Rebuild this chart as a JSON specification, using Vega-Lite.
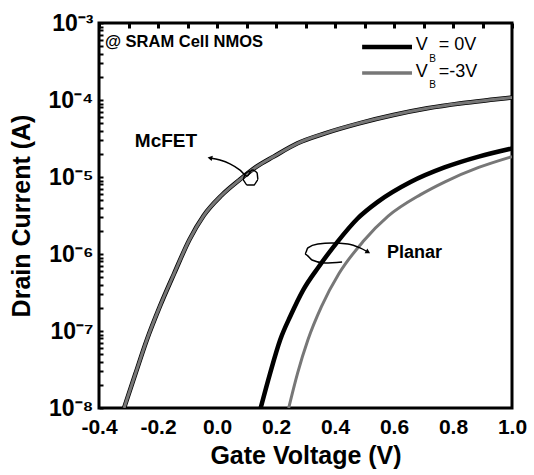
{
  "$schema": "https://vega.github.io/schema/vega-lite/v6.json",
  "width": 413,
  "height": 385,
  "autosize": {"type": "none"},
  "padding": {"left": 99, "top": 23, "right": 22, "bottom": 67},
  "background": "white",
  "config": {"view": {"stroke": "black", "strokeWidth": 3}, "font": "Liberation Sans"},
  "datasets": {
    "curves": [
      {"series": "McFET 0V", "bias": "0V", "vg": -0.315, "id": 1.0e-8},
      {"series": "McFET 0V", "bias": "0V", "vg": -0.276, "id": 2.82e-8},
      {"series": "McFET 0V", "bias": "0V", "vg": -0.238, "id": 7.64e-8},
      {"series": "McFET 0V", "bias": "0V", "vg": -0.194, "id": 2.07e-7},
      {"series": "McFET 0V", "bias": "0V", "vg": -0.145, "id": 5.61e-7},
      {"series": "McFET 0V", "bias": "0V", "vg": -0.094, "id": 1.52e-6},
      {"series": "McFET 0V", "bias": "0V", "vg": -0.045, "id": 3.16e-6},
      {"series": "McFET 0V", "bias": "0V", "vg": 0.015, "id": 5.75e-6},
      {"series": "McFET 0V", "bias": "0V", "vg": 0.076, "id": 9.14e-6},
      {"series": "McFET 0V", "bias": "0V", "vg": 0.134, "id": 1.36e-5},
      {"series": "McFET 0V", "bias": "0V", "vg": 0.192, "id": 1.84e-5},
      {"series": "McFET 0V", "bias": "0V", "vg": 0.273, "id": 2.74e-5},
      {"series": "McFET 0V", "bias": "0V", "vg": 0.366, "id": 3.69e-5},
      {"series": "McFET 0V", "bias": "0V", "vg": 0.482, "id": 4.98e-5},
      {"series": "McFET 0V", "bias": "0V", "vg": 0.598, "id": 6.38e-5},
      {"series": "McFET 0V", "bias": "0V", "vg": 0.713, "id": 7.80e-5},
      {"series": "McFET 0V", "bias": "0V", "vg": 0.829, "id": 9.06e-5},
      {"series": "McFET 0V", "bias": "0V", "vg": 0.945, "id": 1.02e-4},
      {"series": "McFET 0V", "bias": "0V", "vg": 1.0, "id": 1.08e-4},
      {"series": "McFET -3V", "bias": "-3V", "vg": -0.315, "id": 1.0e-8},
      {"series": "McFET -3V", "bias": "-3V", "vg": -0.276, "id": 2.82e-8},
      {"series": "McFET -3V", "bias": "-3V", "vg": -0.238, "id": 7.64e-8},
      {"series": "McFET -3V", "bias": "-3V", "vg": -0.194, "id": 2.07e-7},
      {"series": "McFET -3V", "bias": "-3V", "vg": -0.145, "id": 5.61e-7},
      {"series": "McFET -3V", "bias": "-3V", "vg": -0.094, "id": 1.52e-6},
      {"series": "McFET -3V", "bias": "-3V", "vg": -0.045, "id": 3.16e-6},
      {"series": "McFET -3V", "bias": "-3V", "vg": 0.015, "id": 5.75e-6},
      {"series": "McFET -3V", "bias": "-3V", "vg": 0.076, "id": 9.14e-6},
      {"series": "McFET -3V", "bias": "-3V", "vg": 0.134, "id": 1.36e-5},
      {"series": "McFET -3V", "bias": "-3V", "vg": 0.192, "id": 1.84e-5},
      {"series": "McFET -3V", "bias": "-3V", "vg": 0.273, "id": 2.74e-5},
      {"series": "McFET -3V", "bias": "-3V", "vg": 0.366, "id": 3.69e-5},
      {"series": "McFET -3V", "bias": "-3V", "vg": 0.482, "id": 4.98e-5},
      {"series": "McFET -3V", "bias": "-3V", "vg": 0.598, "id": 6.38e-5},
      {"series": "McFET -3V", "bias": "-3V", "vg": 0.713, "id": 7.80e-5},
      {"series": "McFET -3V", "bias": "-3V", "vg": 0.829, "id": 9.06e-5},
      {"series": "McFET -3V", "bias": "-3V", "vg": 0.945, "id": 1.02e-4},
      {"series": "McFET -3V", "bias": "-3V", "vg": 1.0, "id": 1.08e-4},
      {"series": "Planar 0V", "bias": "0V", "vg": 0.148, "id": 1.0e-8},
      {"series": "Planar 0V", "bias": "0V", "vg": 0.180, "id": 2.82e-8},
      {"series": "Planar 0V", "bias": "0V", "vg": 0.214, "id": 7.64e-8},
      {"series": "Planar 0V", "bias": "0V", "vg": 0.250, "id": 1.60e-7},
      {"series": "Planar 0V", "bias": "0V", "vg": 0.292, "id": 3.40e-7},
      {"series": "Planar 0V", "bias": "0V", "vg": 0.345, "id": 6.84e-7},
      {"series": "Planar 0V", "bias": "0V", "vg": 0.409, "id": 1.45e-6},
      {"series": "Planar 0V", "bias": "0V", "vg": 0.475, "id": 2.85e-6},
      {"series": "Planar 0V", "bias": "0V", "vg": 0.545, "id": 4.75e-6},
      {"series": "Planar 0V", "bias": "0V", "vg": 0.656, "id": 8.60e-6},
      {"series": "Planar 0V", "bias": "0V", "vg": 0.771, "id": 1.33e-5},
      {"series": "Planar 0V", "bias": "0V", "vg": 0.887, "id": 1.84e-5},
      {"series": "Planar 0V", "bias": "0V", "vg": 1.0, "id": 2.35e-5},
      {"series": "Planar -3V", "bias": "-3V", "vg": 0.243, "id": 1.0e-8},
      {"series": "Planar -3V", "bias": "-3V", "vg": 0.273, "id": 2.82e-8},
      {"series": "Planar -3V", "bias": "-3V", "vg": 0.308, "id": 7.64e-8},
      {"series": "Planar -3V", "bias": "-3V", "vg": 0.354, "id": 2.07e-7},
      {"series": "Planar -3V", "bias": "-3V", "vg": 0.414, "id": 5.61e-7},
      {"series": "Planar -3V", "bias": "-3V", "vg": 0.495, "id": 1.45e-6},
      {"series": "Planar -3V", "bias": "-3V", "vg": 0.580, "id": 3.10e-6},
      {"series": "Planar -3V", "bias": "-3V", "vg": 0.690, "id": 5.90e-6},
      {"series": "Planar -3V", "bias": "-3V", "vg": 0.771, "id": 8.60e-6},
      {"series": "Planar -3V", "bias": "-3V", "vg": 0.887, "id": 1.33e-5},
      {"series": "Planar -3V", "bias": "-3V", "vg": 1.0, "id": 1.84e-5}
    ],
    "arrows": [
      {"path": "mcfet", "k": 1, "vg": -0.024, "id": 1.77e-5},
      {"path": "mcfet", "k": 2, "vg": 0.010, "id": 1.66e-5},
      {"path": "mcfet", "k": 3, "vg": 0.044, "id": 1.48e-5},
      {"path": "mcfet", "k": 4, "vg": 0.078, "id": 1.23e-5},
      {"path": "mcfet", "k": 5, "vg": 0.102, "id": 1.03e-5},
      {"path": "mcfet", "k": 6, "vg": 0.119, "id": 1.23e-5},
      {"path": "mcfet", "k": 7, "vg": 0.136, "id": 1.13e-5},
      {"path": "mcfet", "k": 8, "vg": 0.139, "id": 9.14e-6},
      {"path": "mcfet", "k": 9, "vg": 0.125, "id": 7.87e-6},
      {"path": "mcfet", "k": 10, "vg": 0.102, "id": 7.87e-6},
      {"path": "mcfet", "k": 11, "vg": 0.088, "id": 9.14e-6},
      {"path": "mcfet", "k": 12, "vg": 0.095, "id": 1.09e-5},
      {"path": "mcfet", "k": 13, "vg": 0.112, "id": 1.20e-5},
      {"path": "planar", "k": 1, "vg": 0.424, "id": 7.87e-7},
      {"path": "planar", "k": 2, "vg": 0.366, "id": 7.64e-7},
      {"path": "planar", "k": 3, "vg": 0.322, "id": 8.36e-7},
      {"path": "planar", "k": 4, "vg": 0.298, "id": 1.0e-6},
      {"path": "planar", "k": 5, "vg": 0.308, "id": 1.20e-6},
      {"path": "planar", "k": 6, "vg": 0.342, "id": 1.35e-6},
      {"path": "planar", "k": 7, "vg": 0.390, "id": 1.39e-6},
      {"path": "planar", "k": 8, "vg": 0.444, "id": 1.35e-6},
      {"path": "planar", "k": 9, "vg": 0.485, "id": 1.20e-6},
      {"path": "planar", "k": 10, "vg": 0.512, "id": 1.06e-6}
    ],
    "legend": [
      {"bias": "0V", "vg": 0.492, "id": 4.88e-4},
      {"bias": "0V", "vg": 0.661, "id": 4.88e-4},
      {"bias": "-3V", "vg": 0.492, "id": 2.24e-4},
      {"bias": "-3V", "vg": 0.661, "id": 2.24e-4}
    ]
  },
  "layer": [
    {
      "data": {"name": "curves"},
      "transform": [{"filter": "datum.bias == '0V'"}],
      "mark": {"type": "line", "color": "black", "strokeWidth": 4.5, "interpolate": "monotone", "clip": true},
      "encoding": {
        "x": {"field": "vg", "type": "quantitative", "scale": {"domain": [-0.4, 1.0], "nice": false, "zero": false},
          "axis": {"orient": "bottom", "zindex": 1, "values": [-0.4, -0.3, -0.2, -0.1, 0, 0.1, 0.2, 0.3, 0.4, 0.5, 0.6, 0.7, 0.8, 0.9, 1.0], "format": ".1f",
            "labelExpr": "abs(round(datum.value * 10)) % 2 == 0 ? replace(datum.label, '−', '-') : ''",
            "labelFont": "Liberation Sans", "labelFontWeight": "bold",
            "labelFontSize": 21, "labelColor": "black", "labelPadding": 8, "labelFlush": false, "labelOverlap": false,
            "ticks": false, "domain": false,
            "grid": true, "gridColor": "black", "gridOpacity": 1, "gridWidth": 3, "gridDash": [5, 1000],
            "title": "Gate Voltage (V)", "titleFont": "Liberation Sans",
            "titleFontSize": 25, "titleFontWeight": "bold", "titleColor": "black", "titlePadding": 6}},
        "y": {"field": "id", "type": "quantitative", "scale": {"type": "log", "domain": [1e-8, 1e-3], "nice": false},
          "axis": {"orient": "left", "zindex": 1, "values": [1e-8, 2e-8, 3e-8, 4e-8, 5e-8, 6e-8, 7e-8, 8e-8, 9e-8, 1e-7, 2e-7, 3e-7, 4e-7, 5e-7, 6e-7, 7e-7, 8e-7, 9e-7, 1e-6, 2e-6, 3e-6, 4e-6, 5e-6, 6e-6, 7e-6, 8e-6, 9e-6, 1e-5, 2e-5, 3e-5, 4e-5, 5e-5, 6e-5, 7e-5, 8e-5, 9e-5, 1e-4, 2e-4, 3e-4, 4e-4, 5e-4, 6e-4, 7e-4, 8e-4, 9e-4, 1e-3],
            "labelExpr": "abs(log(datum.value) / LN10 - round(log(datum.value) / LN10)) < 0.001 ? '10⁻' + ['⁰','¹','²','³','⁴','⁵','⁶','⁷','⁸','⁹'][round(-log(datum.value) / LN10)] : ''",
            "labelFont": "Liberation Sans", "labelFontWeight": "bold", "labelFontSize": 23, "labelColor": "black",
            "labelPadding": 6, "labelFlush": false, "labelOverlap": false,
            "ticks": false, "domain": false,
            "grid": true, "gridColor": "black", "gridOpacity": 1, "gridWidth": 2, "gridDash": [4, 1000],
            "title": "Drain Current (A)", "titleFont": "Liberation Sans", "titleFontSize": 25, "titleFontWeight": "bold",
            "titleColor": "black", "titlePadding": 14}},
        "detail": {"field": "series"}
      }
    },
    {
      "data": {"name": "curves"},
      "transform": [{"filter": "datum.bias == '-3V'"}],
      "mark": {"type": "line", "color": "#777777", "strokeWidth": 3, "interpolate": "monotone", "clip": true},
      "encoding": {
        "x": {"field": "vg", "type": "quantitative", "scale": {"domain": [-0.4, 1.0], "nice": false, "zero": false}, "axis": null},
        "y": {"field": "id", "type": "quantitative", "scale": {"type": "log", "domain": [1e-8, 1e-3], "nice": false}, "axis": null},
        "detail": {"field": "series"}
      }
    },
    {
      "data": {"name": "arrows"},
      "mark": {"type": "line", "color": "black", "strokeWidth": 1.5, "interpolate": "monotone"},
      "encoding": {
        "x": {"field": "vg", "type": "quantitative", "scale": {"domain": [-0.4, 1.0], "nice": false, "zero": false}, "axis": null},
        "y": {"field": "id", "type": "quantitative", "scale": {"type": "log", "domain": [1e-8, 1e-3], "nice": false}, "axis": null},
        "detail": {"field": "path"},
        "order": {"field": "k", "type": "quantitative"}
      }
    },
    {
      "data": {"values": [{"vg": -0.024, "id": 1.77e-5}]},
      "mark": {"type": "point", "shape": "triangle-left", "filled": true, "color": "black", "size": 30, "angle": 12, "opacity": 1},
      "encoding": {
        "x": {"field": "vg", "type": "quantitative", "scale": {"domain": [-0.4, 1.0], "nice": false, "zero": false}, "axis": null},
        "y": {"field": "id", "type": "quantitative", "scale": {"type": "log", "domain": [1e-8, 1e-3], "nice": false}, "axis": null}
      }
    },
    {
      "data": {"values": [{"vg": 0.512, "id": 1.06e-6}]},
      "mark": {"type": "point", "shape": "triangle-right", "filled": true, "color": "black", "size": 30, "angle": 30, "opacity": 1},
      "encoding": {
        "x": {"field": "vg", "type": "quantitative", "scale": {"domain": [-0.4, 1.0], "nice": false, "zero": false}, "axis": null},
        "y": {"field": "id", "type": "quantitative", "scale": {"type": "log", "domain": [1e-8, 1e-3], "nice": false}, "axis": null}
      }
    },
    {
      "data": {"name": "legend"},
      "transform": [{"filter": "datum.bias == '0V'"}],
      "mark": {"type": "line", "color": "black", "strokeWidth": 4.5},
      "encoding": {
        "x": {"field": "vg", "type": "quantitative", "scale": {"domain": [-0.4, 1.0], "nice": false, "zero": false}, "axis": null},
        "y": {"field": "id", "type": "quantitative", "scale": {"type": "log", "domain": [1e-8, 1e-3], "nice": false}, "axis": null}
      }
    },
    {
      "data": {"name": "legend"},
      "transform": [{"filter": "datum.bias == '-3V'"}],
      "mark": {"type": "line", "color": "#777777", "strokeWidth": 3.5},
      "encoding": {
        "x": {"field": "vg", "type": "quantitative", "scale": {"domain": [-0.4, 1.0], "nice": false, "zero": false}, "axis": null},
        "y": {"field": "id", "type": "quantitative", "scale": {"type": "log", "domain": [1e-8, 1e-3], "nice": false}, "axis": null}
      }
    },
    {
      "data": {"values": [{"t": "McFET", "vg": -0.173, "id": 2.94e-5}]},
      "mark": {"type": "text", "font": "Liberation Sans", "fontWeight": "bold", "fontSize": 19, "align": "center", "baseline": "middle", "color": "black"},
      "encoding": {
        "x": {"field": "vg", "type": "quantitative", "scale": {"domain": [-0.4, 1.0], "nice": false, "zero": false}, "axis": null},
        "y": {"field": "id", "type": "quantitative", "scale": {"type": "log", "domain": [1e-8, 1e-3], "nice": false}, "axis": null},
        "text": {"field": "t"}
      }
    },
    {
      "data": {"values": [{"t": "Planar", "vg": 0.576, "id": 1.03e-6}]},
      "mark": {"type": "text", "font": "Liberation Sans", "fontWeight": "bold", "fontSize": 18, "align": "left", "baseline": "middle", "color": "black"},
      "encoding": {
        "x": {"field": "vg", "type": "quantitative", "scale": {"domain": [-0.4, 1.0], "nice": false, "zero": false}, "axis": null},
        "y": {"field": "id", "type": "quantitative", "scale": {"type": "log", "domain": [1e-8, 1e-3], "nice": false}, "axis": null},
        "text": {"field": "t"}
      }
    },
    {
      "data": {"values": [{"t": "@ SRAM Cell NMOS", "vg": -0.38, "id": 5.66e-4}]},
      "mark": {"type": "text", "font": "Liberation Sans", "fontWeight": "bold", "fontSize": 16.5, "align": "left", "baseline": "middle", "color": "black"},
      "encoding": {
        "x": {"field": "vg", "type": "quantitative", "scale": {"domain": [-0.4, 1.0], "nice": false, "zero": false}, "axis": null},
        "y": {"field": "id", "type": "quantitative", "scale": {"type": "log", "domain": [1e-8, 1e-3], "nice": false}, "axis": null},
        "text": {"field": "t"}
      }
    },
    {
      "data": {"values": [{"t": "V", "vg": 0.674, "id": 5.18e-4}, {"t": "V", "vg": 0.674, "id": 2.31e-4}, {"t": "= 0V", "vg": 0.752, "id": 5.18e-4}, {"t": "=-3V", "vg": 0.752, "id": 2.31e-4}]},
      "mark": {"type": "text", "font": "Liberation Sans", "fontSize": 18, "align": "left", "baseline": "middle", "color": "black"},
      "encoding": {
        "x": {"field": "vg", "type": "quantitative", "scale": {"domain": [-0.4, 1.0], "nice": false, "zero": false}, "axis": null},
        "y": {"field": "id", "type": "quantitative", "scale": {"type": "log", "domain": [1e-8, 1e-3], "nice": false}, "axis": null},
        "text": {"field": "t"}
      }
    },
    {
      "data": {"values": [{"t": "B", "vg": 0.731, "id": 3.45e-4}, {"t": "B", "vg": 0.731, "id": 1.58e-4}]},
      "mark": {"type": "text", "font": "Liberation Sans", "fontSize": 10, "align": "center", "baseline": "middle", "color": "black"},
      "encoding": {
        "x": {"field": "vg", "type": "quantitative", "scale": {"domain": [-0.4, 1.0], "nice": false, "zero": false}, "axis": null},
        "y": {"field": "id", "type": "quantitative", "scale": {"type": "log", "domain": [1e-8, 1e-3], "nice": false}, "axis": null},
        "text": {"field": "t"}
      }
    }
  ],
  "resolve": {"axis": {"x": "independent", "y": "independent"}}
}
